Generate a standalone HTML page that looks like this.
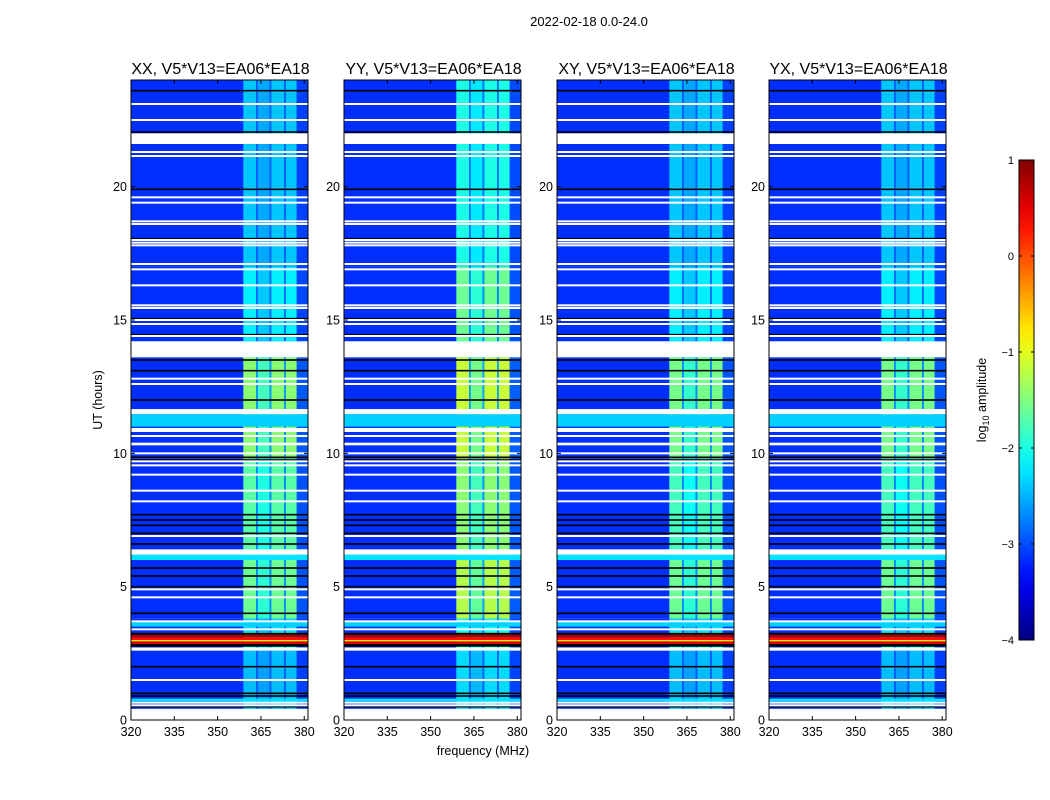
<!DOCTYPE html>
<html><head><meta charset="utf-8">
<style>
body{margin:0;background:#fff;width:1050px;height:800px;overflow:hidden;font-family:"Liberation Sans",sans-serif;}
#root{position:relative;width:1050px;height:800px;}
</style></head>
<body>
<div id="root">
<svg id="svg" width="1050" height="800" style="position:absolute;left:0;top:0"></svg>
</div>
<script>
// ---- data ----
const panelTitles = ["XX, V5*V13=EA06*EA18","YY, V5*V13=EA06*EA18","XY, V5*V13=EA06*EA18","YX, V5*V13=EA06*EA18"];
const xTicks = [320,335,350,365,380];
const yTicks = [0,5,10,15,20];
const cbTicks = [1,0,-1,-2,-3,-4];
const baseLevel = -3.15;
// time segments (hours) and band amplitude (log10) per panel
const segEdges = [0.4, 2.7, 3.3, 3.8, 6.0, 9.8, 13.6, 14.2, 17.0, 24.0];
const bandXX = [-2.45, -2.0, -2.3, -1.6, -1.7, -1.45, -2.0, -2.2, -2.4];
const bandYY = [-2.3, -1.8, -2.1, -1.25, -1.45, -1.15, -2.0, -1.6, -2.0];
const bandXY = [-2.45, -2.0, -2.3, -1.6, -1.8, -1.55, -2.0, -2.2, -2.4];
const bandYX = [-2.45, -2.0, -2.3, -1.6, -1.8, -1.55, -2.0, -2.2, -2.4];
// frequency sub-band structure (MHz) and relative gain
const freqEdges = [358.9, 363.3, 363.9, 368.0, 368.6, 373.0, 373.6, 377.4, 381.5];
const freqGain  = [1.0, 0.3, 0.8, 0.3, 1.0, 0.3, 1.0, 0.12];
// flagged rows
const whiteLines = [23.1,22.5,21.3,21.15,19.6,19.4,18.7,18.6,18.0,17.9,17.8,17.1,16.9,16.3,15.55,15.45,15.0,14.85,14.4,12.8,12.6,10.65,10.0,9.7,9.55,9.2,8.6,8.2,6.9,4.9,4.6,3.7,3.4,1.5,0.65,0.55];
const whiteBlockStart = [21.6,13.6,11.47,10.8,10.3,6.2,2.6,0];
const whiteBlockEnd   = [22.0,14.2,11.66,10.95,10.4,6.4,2.72,0.42];
const blackLines = [23.6,22.05,19.9,18.05,15.05,14.45,13.5,13.1,12.0,9.85,9.75,7.7,7.5,7.3,7.0,6.6,5.7,5.4,5.0,4.0,2.0,1.0,0.9,0.5];
const rowStart = [11.0,6.0,3.5,0.7,2.75,2.85,2.95,3.0,3.1,3.2];
const rowEnd   = [11.47,6.2,3.7,0.8,2.85,2.95,3.0,3.1,3.2,3.27];
const rowLevel = [-2.35,-2.25,-2.35,-2.25,-9,0.5,-0.8,0.3,0.8,-9];
const bands = [bandXX,bandYY,bandXY,bandYX];

// ---- layout ----
const panelX = [131,344,557,769];
const PW = 177, PT = 80, PB = 720;
const fMin = 320, fMax = 381.3, tMin = 0, tMax = 24;
function xScale(f,i){return panelX[i] + (f-fMin)/(fMax-fMin)*PW;}
function yScale(t){return PB - (t-tMin)/(tMax-tMin)*(PB-PT);}
const cbX=1019, cbW=15, cbT=160, cbB=640, vMin=-4, vMax=1;
function cbScale(v){return cbB - (v-vMin)/(vMax-vMin)*(cbB-cbT);}

function jet(v){
  if(v<=-8) return "#000";
  let x=(v-vMin)/(vMax-vMin); x=Math.max(0,Math.min(1,x));
  const c=t=>Math.round(255*Math.max(0,Math.min(1,1.5-Math.abs(4*x-t))));
  return `rgb(${c(3)},${c(2)},${c(1)})`;
}
const NS="http://www.w3.org/2000/svg";
const svg=document.getElementById('svg');
function mk(tag,attrs,parent){const e=document.createElementNS(NS,tag);for(const k in attrs)e.setAttribute(k,attrs[k]);(parent||svg).appendChild(e);return e;}
function txt(s,attrs,parent){const e=mk('text',Object.assign({'font-family':'Liberation Sans, sans-serif'},attrs),parent);e.textContent=s;return e;}

const title=txt("2022-02-18 0.0-24.0",{x:589,y:26,'font-size':13,'text-anchor':'middle'});



for(let p=0;p<4;p++){
  const g=mk('g',{});
  
  
  const clipId='c'+p;
  const cp=mk('clipPath',{id:clipId},g);mk('rect',{x:panelX[p],y:PT,width:PW,height:PB-PT},cp);
  const hm=mk('g',{'clip-path':`url(#${clipId})`},g);
  
  
  for(let s=0;s<segEdges.length-1;s++){
    const y0=yScale(segEdges[s+1]), y1=yScale(segEdges[s]);
    const bg=mk('rect',{x:panelX[p],y:y0,width:PW,height:y1-y0,fill:jet(baseLevel)},hm);
    
    
    for(let f=0;f<freqGain.length;f++){
      const x0=xScale(freqEdges[f],p), x1=xScale(freqEdges[f+1],p);
      const v=baseLevel+(bands[p][s]-baseLevel)*freqGain[f];
      const r=mk('rect',{x:x0,y:y0,width:x1-x0,height:y1-y0,fill:jet(v)},hm);
      
      
    }
  }
  for(let i=0;i<rowStart.length;i++){
    const y0=yScale(rowEnd[i]), y1=yScale(rowStart[i]);
    const r=mk('rect',{x:panelX[p],y:y0,width:PW,height:y1-y0,fill:jet(rowLevel[i])},hm);
    
    
  }
  for(const t of blackLines){
    const r=mk('rect',{x:panelX[p],y:yScale(t)-0.8,width:PW,height:1.6,fill:'#000'},hm);
    
    
  }
  for(const t of whiteLines){
    const r=mk('rect',{x:panelX[p],y:yScale(t)-1,width:PW,height:2,fill:'#fff'},hm);
    
    
  }
  for(let i=0;i<whiteBlockStart.length;i++){
    const y0=yScale(whiteBlockEnd[i]), y1=yScale(whiteBlockStart[i]);
    const r=mk('rect',{x:panelX[p],y:y0,width:PW,height:y1-y0,fill:'#fff'},hm);
    
    
  }
  const fr=mk('rect',{x:panelX[p],y:PT,width:PW,height:PB-PT,fill:'none',stroke:'#000','stroke-width':1},g);
  
  
  const tt=txt(panelTitles[p],{x:panelX[p]+PW/2+1,y:74,'font-size':16,'text-anchor':'middle'},g);
  
  
  for(const v of xTicks){
    const x=xScale(v,p);
    mk('line',{x1:x,x2:x,y1:PB,y2:PB-4,stroke:'#000'},g);
    mk('line',{x1:x,x2:x,y1:PT,y2:PT+4,stroke:'#000'},g);
    const l=txt(String(v),{x:x,y:PB+16,'font-size':12.5,'text-anchor':'middle'},g);
    
    
  }
  for(const v of yTicks){
    const y=yScale(v);
    mk('line',{x1:panelX[p],x2:panelX[p]+4,y1:y,y2:y,stroke:'#000'},g);
    mk('line',{x1:panelX[p]+PW,x2:panelX[p]+PW-4,y1:y,y2:y,stroke:'#000'},g);
    const l=txt(String(v),{x:panelX[p]-4,y:y+4.5,'font-size':12.5,'text-anchor':'end'},g);
    
    
  }
}
const yl=txt("UT (hours)",{x:0,y:0,'font-size':12.5,'text-anchor':'middle',transform:'translate(102,400) rotate(-90)'});


const xl=txt("frequency (MHz)",{x:483,y:755,'font-size':12.5,'text-anchor':'middle'});



// colorbar
const defs=mk('defs',{});
const lg=mk('linearGradient',{id:'jetg',x1:0,y1:1,x2:0,y2:0},defs);
for(let i=0;i<=20;i++){mk('stop',{offset:i/20,'stop-color':jet(vMin+(vMax-vMin)*i/20)},lg);}
const cb=mk('rect',{x:cbX,y:cbT,width:cbW,height:cbB-cbT,fill:'url(#jetg)',stroke:'#000'});


for(const v of cbTicks){
  const y=cbScale(v);
  mk('line',{x1:cbX,x2:cbX+3,y1:y,y2:y,stroke:'#000'});
  mk('line',{x1:cbX+cbW,x2:cbX+cbW-3,y1:y,y2:y,stroke:'#000'});
  const l=txt(v<0?'\u2212'+(-v):String(v),{x:cbX-5,y:y+4,'font-size':11,'text-anchor':'end'});
  
  
}
const cl=mk('text',{x:0,y:0,'font-size':12.5,'text-anchor':'middle','font-family':'Liberation Sans, sans-serif',transform:'translate(986,400) rotate(-90)'});
cl.innerHTML='log<tspan font-size="9" dy="3">10</tspan><tspan dy="-3"> amplitude</tspan>';


</script>
</body></html>
